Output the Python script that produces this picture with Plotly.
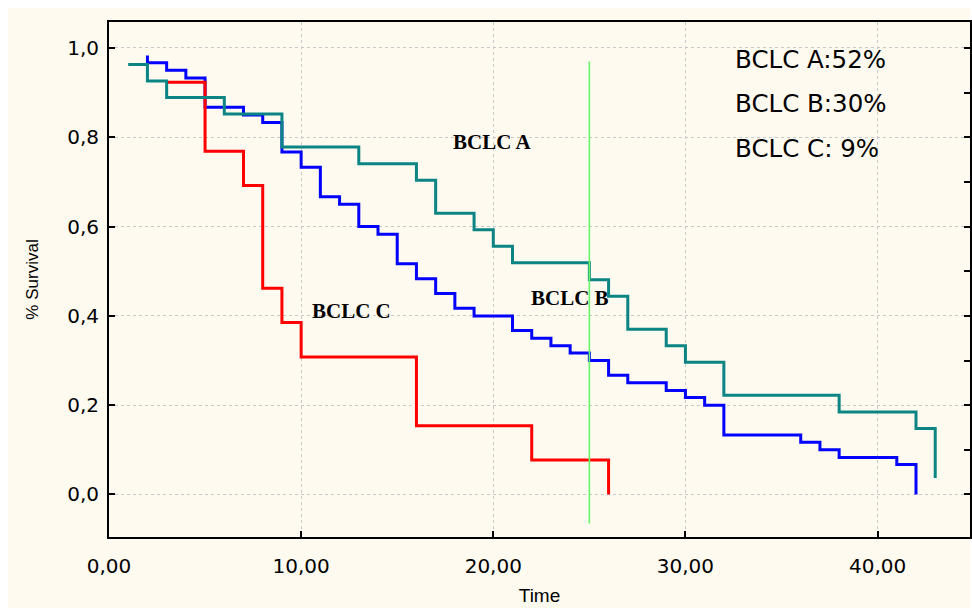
import plotly.graph_objects as go

# ---- data ----
time_a = [1, 2, 3, 6, 9, 13, 16, 17, 19, 20, 21, 25, 26, 27, 29, 30, 32, 38, 42, 43]
surv_a = [0.963, 0.926, 0.889, 0.852, 0.778, 0.741, 0.704, 0.630, 0.593, 0.556,
          0.519, 0.481, 0.444, 0.370, 0.333, 0.296, 0.222, 0.185, 0.148, 0.037]

time_b = [2, 2, 3, 4, 5, 7, 8, 9, 10, 11, 12, 13, 14, 15, 16, 17, 18, 19, 21, 22,
          23, 24, 25, 26, 27, 29, 30, 31, 32, 36, 37, 38, 41, 42]
surv_b = [0.983, 0.967, 0.950, 0.933, 0.867, 0.850, 0.833, 0.767, 0.733, 0.667,
          0.650, 0.600, 0.583, 0.517, 0.483, 0.450, 0.417, 0.400, 0.367, 0.350,
          0.333, 0.317, 0.300, 0.267, 0.250, 0.233, 0.217, 0.200, 0.133, 0.117,
          0.100, 0.083, 0.067, 0.0]

time_c = [3, 5, 7, 8, 9, 10, 16, 22, 26]
surv_c = [0.923, 0.769, 0.692, 0.462, 0.385, 0.308, 0.154, 0.077, 0.0]

marker_time = [25, 25]
marker_surv = [-0.065, 0.97]

curve_labels = ["BCLC A", "BCLC B", "BCLC C"]
curve_label_x = [19.95, 23.98, 12.64]
curve_label_y = [0.789, 0.439, 0.412]

summary_lines = ["BCLC A:52%", "BCLC B:30%", "BCLC C: 9%"]
summary_x = 32.5
summary_y = [0.975, 0.876, 0.775]

x_ticks = [0, 10, 20, 30, 40]
x_tick_text = ["0,00", "10,00", "20,00", "30,00", "40,00"]
y_ticks = [0.0, 0.2, 0.4, 0.6, 0.8, 1.0]
y_tick_text = ["0,0", "0,2", "0,4", "0,6", "0,8", "1,0"]

X_RANGE = [0, 44.81]
Y_RANGE = [-0.0952, 1.0582]

CREAM = "#FEFAEF"
TEAL = "#0B8484"
BLUE = "#0000FF"
RED = "#FF0000"
GREEN = "#66F566"

fig = go.Figure()
fig.add_trace(go.Scatter(x=time_b, y=surv_b, mode="lines", line_shape="hv",
                         line=dict(color=BLUE, width=3), name="BCLC B"))
fig.add_trace(go.Scatter(x=time_c, y=surv_c, mode="lines", line_shape="hv",
                         line=dict(color=RED, width=3), name="BCLC C"))
fig.add_trace(go.Scatter(x=time_a, y=surv_a, mode="lines", line_shape="hv",
                         line=dict(color=TEAL, width=3), name="BCLC A"))
fig.add_trace(go.Scatter(x=marker_time, y=marker_surv, mode="lines",
                         line=dict(color=GREEN, width=1.6), name="marker"))
# invisible trace for right-hand minor ticks
fig.add_trace(go.Scatter(x=[None], y=[None], yaxis="y2", showlegend=False))

for txt, x, y in zip(curve_labels, curve_label_x, curve_label_y):
    fig.add_annotation(x=x, y=y, text="<b>" + txt + "</b>", showarrow=False,
                       xanchor="center", yanchor="middle",
                       font=dict(family="Liberation Serif, Times New Roman, serif",
                                 size=21, color="black"))

for txt, y in zip(summary_lines, summary_y):
    fig.add_annotation(x=summary_x, y=y, text=txt, showarrow=False,
                       xanchor="left", yanchor="middle",
                       font=dict(family="DejaVu Sans, Verdana, sans-serif",
                                 size=24.5, color="black"))

fig.add_shape(type="rect", xref="paper", yref="paper",
              x0=-0.1175, x1=1.0, y0=-0.2, y1=1.027,
              fillcolor=CREAM, line=dict(width=0), layer="below")

fig.update_layout(
    width=972, height=608,
    margin=dict(l=108.5, r=0, t=22, b=71),
    paper_bgcolor="white",
    plot_bgcolor=CREAM,
    showlegend=False,
    xaxis=dict(range=X_RANGE, tickvals=x_ticks, ticktext=x_tick_text,
               ticks="inside", ticklen=6, tickwidth=1.5, tickcolor="black",
               showline=True, linecolor="black", linewidth=2, mirror=True,
               showgrid=True, gridcolor="#C9C9C9", griddash="dot", gridwidth=1,
               zeroline=False,
               tickfont=dict(family="DejaVu Sans, Verdana, sans-serif", size=20, color="black"),
               ticklabelstandoff=10,
               title=dict(text="Time", standoff=12,
                          font=dict(family="Liberation Sans, Arial, sans-serif", size=19, color="black"))),
    yaxis=dict(range=Y_RANGE, tickvals=y_ticks, ticktext=y_tick_text,
               ticks="inside", ticklen=6, tickwidth=1.5, tickcolor="black",
               showline=True, linecolor="black", linewidth=2, mirror=True,
               showgrid=True, gridcolor="#C9C9C9", griddash="dot", gridwidth=1,
               zeroline=False,
               tickfont=dict(family="DejaVu Sans, Verdana, sans-serif", size=20, color="black"),
               ticklabelstandoff=4,
               title=dict(text="% Survival", standoff=24,
                          font=dict(family="Liberation Sans, Arial, sans-serif", size=17, color="black"))),
    yaxis2=dict(range=Y_RANGE, overlaying="y", side="right", dtick=0.1, tick0=0,
                ticks="inside", ticklen=6, tickwidth=1.5, tickcolor="black",
                showticklabels=False, showgrid=False, zeroline=False, showline=False),
)

fig.write_html("out.html")
